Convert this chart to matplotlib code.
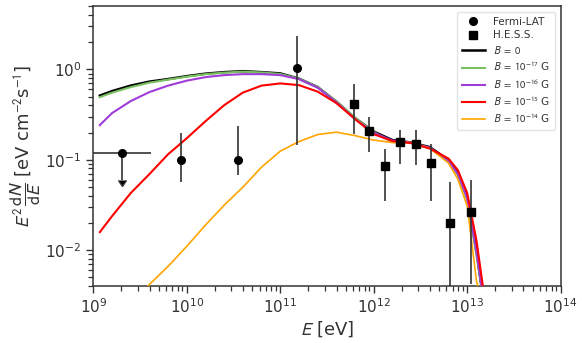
import numpy as np
import matplotlib
matplotlib.use("Agg")
import matplotlib.pyplot as plt
from matplotlib.ticker import FixedLocator, NullFormatter
from matplotlib.lines import Line2D

plt.rcParams['font.family'] = ['DejaVu Sans']
plt.rcParams['mathtext.fontset'] = 'stixsans'

# ---- data ----
fermi_E = [2.04e9, 8.7e9, 3.5e10, 1.5e11]
fermi_F = [0.12, 0.10, 0.10, 1.05]
fermi_lo = [0.06, 0.056, 0.068, 0.145]   # lower edge of error bar
fermi_hi = [0.12, 0.20, 0.235, 2.35]     # upper edge of error bar
fermi_Elo = [1.0e9, 8.7e9, 3.5e10, 1.5e11]
fermi_Ehi = [4.1e9, 8.7e9, 3.5e10, 1.5e11]
fermi_ul = [True, False, False, False]

hess_E = [6.14e11, 8.87e11, 1.31e12, 1.91e12, 2.83e12, 4.12e12, 6.48e12, 1.10e13]
hess_F = [0.418, 0.207, 0.085, 0.158, 0.150, 0.0917, 0.0200, 0.0262]
hess_lo = [0.195, 0.122, 0.0348, 0.0887, 0.087, 0.0348, 1e-3, 0.0042]
hess_hi = [0.693, 0.296, 0.130, 0.213, 0.213, 0.150, 0.0565, 0.0600]

logE_grid = [9.07, 9.2, 9.4, 9.6, 9.8, 10.0, 10.2, 10.4, 10.6, 10.8, 11.0, 11.2,
             11.4, 11.6, 11.8, 12.0, 12.2, 12.4, 12.6, 12.8, 12.9, 13.0, 13.1, 13.155]

F_B0 = [0.513, 0.575, 0.662, 0.733, 0.782, 0.843, 0.898, 0.933, 0.957, 0.933, 0.904, 0.791,
        0.637, 0.440, 0.289, 0.205, 0.165, 0.155, 0.138, 0.099, 0.071, 0.0385, 0.0097, 0.0038]
F_B17 = [0.493, 0.553, 0.637, 0.714, 0.771, 0.832, 0.887, 0.922, 0.945, 0.926, 0.891, 0.791,
         0.637, 0.446, 0.292, 0.202, 0.157, 0.153, 0.134, 0.096, 0.068, 0.036, 0.0086, 0.0038]
F_B16 = [0.242, 0.328, 0.446, 0.561, 0.662, 0.751, 0.822, 0.865, 0.887, 0.887, 0.865, 0.781,
         0.629, 0.435, 0.282, 0.199, 0.163, 0.155, 0.136, 0.096, 0.0695, 0.0376, 0.0093, 0.0038]

logE_B15 = [9.07, 9.2, 9.4, 9.6, 9.8, 10.0, 10.2, 10.4, 10.6, 10.8, 11.0, 11.2,
            11.4, 11.6, 11.8, 12.0, 12.2, 12.4, 12.6, 12.8, 12.9, 13.0, 13.1, 13.17]
F_B15 = [0.0158, 0.0237, 0.0427, 0.0693, 0.115, 0.173, 0.267, 0.402, 0.554, 0.662, 0.700, 0.670,
         0.568, 0.424, 0.282, 0.192, 0.161, 0.153, 0.133, 0.103, 0.0767, 0.0427, 0.0126, 0.0038]

logE_B14 = [9.57, 9.8, 10.0, 10.2, 10.4, 10.6, 10.8, 11.0, 11.2, 11.4, 11.6, 11.8,
            12.0, 12.2, 12.4, 12.6, 12.8, 12.9, 13.0, 13.1, 13.12]
F_B14 = [0.00388, 0.0066, 0.0110, 0.0189, 0.0314, 0.0497, 0.0828, 0.1245, 0.159, 0.190, 0.202, 0.185,
         0.165, 0.155, 0.155, 0.134, 0.0917, 0.061, 0.0306, 0.0045, 0.0038]

# ---- figure ----
fig = plt.figure(figsize=(5.82, 3.43), dpi=100)
ax = fig.add_axes([0.1603, 0.1662, 0.8031, 0.8154])

E_grid = 10 ** np.array(logE_grid)
ax.plot(E_grid, F_B0, color='black', lw=1.8, zorder=3)
ax.plot(E_grid, F_B17, color='#78c060', lw=1.5, zorder=3)
ax.plot(E_grid, F_B16, color='#a03cd8', lw=1.5, zorder=3)
ax.plot(10 ** np.array(logE_B15), F_B15, color='red', lw=1.5, zorder=3.2)
ax.plot(10 ** np.array(logE_B14), F_B14, color='orange', lw=1.2, zorder=3.1)

fE = np.array(fermi_E); fF = np.array(fermi_F)
yerr = np.array([fF - np.array(fermi_lo), np.array(fermi_hi) - fF])
xerr = np.array([fE - np.array(fermi_Elo), np.array(fermi_Ehi) - fE])
ax.errorbar(fE, fF, xerr=xerr, yerr=yerr, uplims=fermi_ul, fmt='o', color='black',
            ecolor='#333333', elinewidth=1.2, markersize=5.5, capsize=0, zorder=4)

hE = np.array(hess_E); hF = np.array(hess_F)
hyerr = np.array([hF - np.array(hess_lo), np.array(hess_hi) - hF])
ax.errorbar(hE, hF, yerr=hyerr, fmt='s', color='black', ecolor='#333333', elinewidth=1.2,
            markersize=5.5, capsize=0, zorder=4)

ax.set_xscale('log')
ax.set_yscale('log')
ax.set_xlim(1e9, 1e14)
ax.set_ylim(4e-3, 5)

xminor = [m * 10.0 ** k for k in range(9, 14) for m in range(2, 10)]
yminor = [m * 10.0 ** k for k in range(-3, 1) for m in range(2, 10)]
ax.xaxis.set_minor_locator(FixedLocator(xminor))
ax.yaxis.set_minor_locator(FixedLocator(yminor))
ax.xaxis.set_minor_formatter(NullFormatter())
ax.yaxis.set_minor_formatter(NullFormatter())

for s in ax.spines.values():
    s.set_color('#333333')
    s.set_linewidth(1.1)
ax.tick_params(which='major', direction='out', length=5, width=1.0, color='#333333',
               labelsize=11, labelcolor='#333333')
ax.tick_params(which='minor', direction='out', length=3.5, width=0.9, color='#333333')

ax.set_xlabel(r'$E$ [eV]', fontsize=13, color='#333333', labelpad=2)
ax.set_ylabel(r'$E^2\,\dfrac{\mathrm{d}N}{\mathrm{d}E}$ [eV cm$^{-2}$s$^{-1}$]', fontsize=13,
              color='#333333', labelpad=2)

handles = [
    Line2D([], [], ls='none', marker='o', color='black', markersize=5.5),
    Line2D([], [], ls='none', marker='s', color='black', markersize=5.5),
    Line2D([], [], color='black', lw=1.8),
    Line2D([], [], color='#78c060', lw=1.5),
    Line2D([], [], color='#a03cd8', lw=1.5),
    Line2D([], [], color='red', lw=1.5),
    Line2D([], [], color='orange', lw=1.2),
]
labels = ['Fermi-LAT', 'H.E.S.S.', r'$B\ =\ 0$', r'$B\ =\ 10^{-17}$ G', r'$B\ =\ 10^{-16}$ G',
          r'$B\ =\ 10^{-15}$ G', r'$B\ =\ 10^{-14}$ G']
leg = ax.legend(handles, labels, loc='upper right',
                fontsize=7.5, frameon=True, fancybox=True, framealpha=0.8, edgecolor='#dddddd',
                borderpad=0.5, labelspacing=0.35, handlelength=2.2)
for t in leg.get_texts():
    t.set_color('#333333')

fig.savefig('out.png', dpi=100)
